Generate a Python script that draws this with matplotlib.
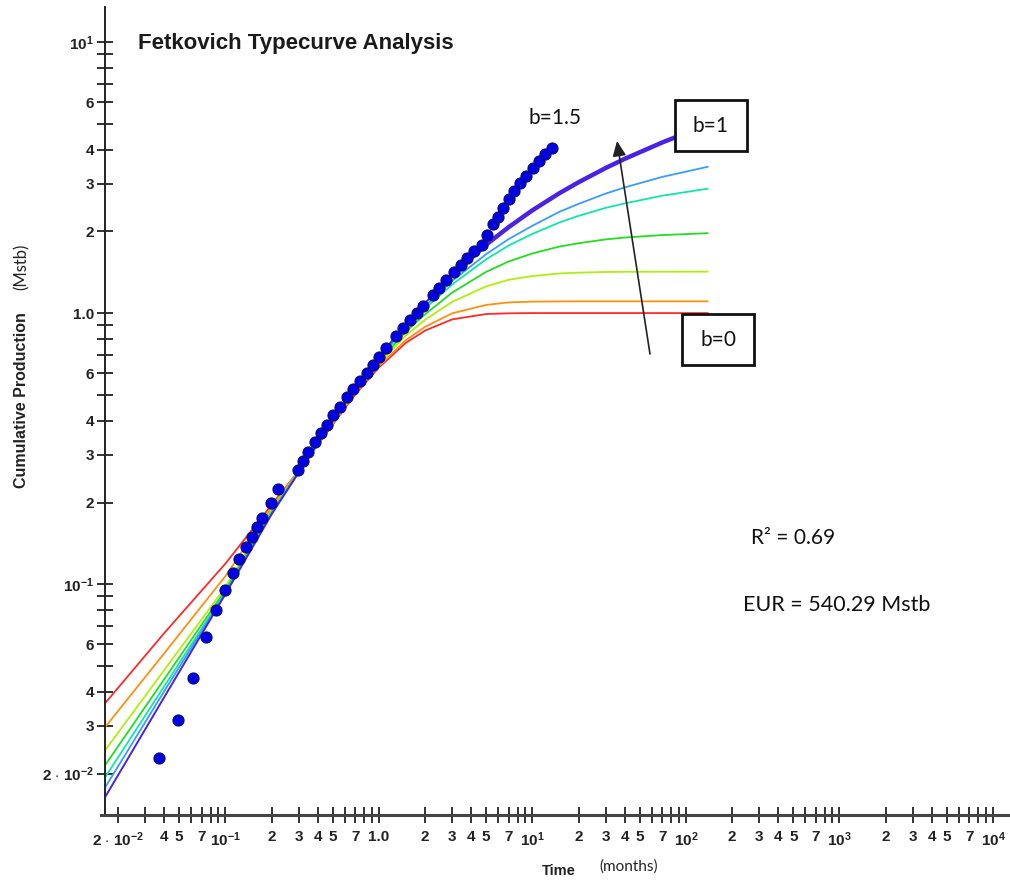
import matplotlib
matplotlib.use("Agg")
import matplotlib.pyplot as plt
from matplotlib.patches import Rectangle
from matplotlib.ticker import FixedLocator, FixedFormatter

plt.rcParams['mathtext.fontset'] = 'custom'
plt.rcParams['mathtext.bf'] = 'Liberation Sans:bold'
plt.rcParams['mathtext.rm'] = 'Liberation Sans'

W, H = 1010, 880

# time (months) where the type curves were read
t_curve = [0.0165, 0.04, 0.1, 0.2, 0.3, 0.5, 0.7, 1, 1.5, 2, 3, 5, 7, 10,
           15, 20, 30, 40, 70, 140]
t_b1 = [0.0165, 0.04, 0.1, 0.2, 0.3, 0.5, 0.7, 1, 1.5, 2, 3, 5, 7, 10,
        15, 20, 30, 40, 70, 85]

# cumulative production of the type curves (Mstb)
q_red = [0.0364, 0.0660, 0.119, 0.196, 0.262, 0.388, 0.500, 0.630, 0.777, 0.862,
         0.948, 0.992, 0.998, 1.0, 1.0, 1.0, 1.0, 1.0, 1.0, 1.0]
q_orange = [0.0297, 0.0556, 0.107, 0.192, 0.262, 0.391, 0.506, 0.638, 0.795, 0.890,
            0.998, 1.072, 1.095, 1.102, 1.104, 1.105, 1.105, 1.105, 1.105, 1.105]
q_yellow = [0.0244, 0.0482, 0.0975, 0.188, 0.261, 0.394, 0.512, 0.650, 0.828, 0.945,
            1.100, 1.255, 1.327, 1.370, 1.400, 1.410, 1.418, 1.420, 1.421, 1.422]
q_green = [0.0215, 0.0446, 0.0950, 0.185, 0.260, 0.396, 0.518, 0.662, 0.855, 0.990,
           1.190, 1.420, 1.550, 1.660, 1.760, 1.810, 1.870, 1.900, 1.940, 1.972]
q_teal = [0.0194, 0.0420, 0.0934, 0.184, 0.259, 0.398, 0.522, 0.675, 0.880, 1.040,
          1.275, 1.580, 1.775, 1.960, 2.160, 2.285, 2.445, 2.540, 2.710, 2.880]
q_lblue = [0.0178, 0.0403, 0.0926, 0.182, 0.259, 0.400, 0.525, 0.683, 0.893, 1.060,
           1.315, 1.650, 1.875, 2.100, 2.365, 2.530, 2.760, 2.910, 3.180, 3.470]
q_b1 = [0.0164, 0.0383, 0.0918, 0.181, 0.258, 0.402, 0.530, 0.690, 0.912, 1.090,
        1.380, 1.790, 2.075, 2.395, 2.770, 3.040, 3.430, 3.710, 4.260, 4.450]

# well data
t_data = [0.0369, 0.0491, 0.0614, 0.0746, 0.0867, 0.0993, 0.112, 0.1225, 0.136, 0.149,
          0.160, 0.173, 0.198, 0.220, 0.297, 0.320, 0.345, 0.383, 0.419, 0.458,
          0.501, 0.557, 0.619, 0.677, 0.752, 0.835, 0.914, 1.0, 1.11, 1.29,
          1.43, 1.59, 1.77, 1.93, 2.25, 2.46, 2.73, 3.08, 3.42, 3.74,
          4.16, 4.69, 5.05, 5.53, 5.96, 6.42, 7.03, 7.57, 8.29, 9.07,
          10.07, 11.0, 12.1, 13.4]
q_data = [0.0228, 0.0315, 0.045, 0.0637, 0.0802, 0.095, 0.110, 0.1236, 0.137, 0.149,
          0.162, 0.175, 0.199, 0.224, 0.264, 0.284, 0.307, 0.334, 0.361, 0.386,
          0.421, 0.450, 0.490, 0.525, 0.561, 0.601, 0.643, 0.688, 0.743, 0.822,
          0.880, 0.942, 1.0, 1.06, 1.165, 1.24, 1.32, 1.42, 1.50, 1.60,
          1.69, 1.78, 1.94, 2.13, 2.26, 2.44, 2.63, 2.82, 3.02, 3.20,
          3.43, 3.64, 3.86, 4.06]


def fx(px):
    return px / W


def fy(py):
    return 1 - py / H


fig = plt.figure(figsize=(W / 100, H / 100), dpi=100)
ax = fig.add_axes([fx(105), fy(815), fx(1010) - fx(105), fy(7) - fy(815)])
ax.set_xscale('log')
ax.set_yscale('log')
ax.set_xlim(0.01644, 12900)
ax.set_ylim(0.01406, 13.47)

curves = [(q_red, '#ff2a2a'), (q_orange, '#ff9010'), (q_yellow, '#b0ee10'),
          (q_green, '#22dd22'), (q_teal, '#10e6a8'), (q_lblue, '#3a9cff')]
for q, c in curves:
    ax.plot(t_curve, q, color=c, lw=1.3, solid_capstyle='butt')
# b=1: thin at early time, thick once it leaves the data
ax.plot(t_b1, q_b1, color='#4a22e6', lw=1.4, solid_capstyle='butt')
ax.plot(t_b1[10:], q_b1[10:], color='#4a22e6', lw=3.2, solid_capstyle='butt')

ax.plot(t_data, q_data, 'o', ms=8, mfc='#0000e8', mec='#101060', mew=0.8, zorder=5)

# ticks
xt, xl = [], []
for e in range(-2, 4):
    for m in range(1, 10):
        v = m * 10.0 ** e
        if v < 0.019:
            continue
        xt.append(v)
        if m == 1:
            xl.append('1.0' if e == 0 else r'$\mathbf{10^{%d}}$' % e)
        elif v == 0.02:
            xl.append(r'2 $\cdot$ $\mathbf{10^{-2}}$')
        elif v == 0.03:
            xl.append('')
        elif m in (2, 3, 4, 5, 7):
            xl.append(str(m))
        else:
            xl.append('')
xt.append(1e4)
xl.append(r'$\mathbf{10^{4}}$')

yt, yl = [], []
for e in range(-2, 1):
    for m in range(1, 10):
        v = m * 10.0 ** e
        if v < 0.019:
            continue
        yt.append(v)
        if m == 1:
            yl.append('1.0' if e == 0 else r'$\mathbf{10^{%d}}$' % e)
        elif v == 0.02:
            yl.append(r'2 $\cdot$ $\mathbf{10^{-2}}$')
        elif m in (2, 3, 4, 6):
            yl.append(str(m))
        else:
            yl.append('')
yt.append(10)
yl.append(r'$\mathbf{10^{1}}$')

ax.xaxis.set_major_locator(FixedLocator(xt))
ax.xaxis.set_major_formatter(FixedFormatter(xl))
ax.yaxis.set_major_locator(FixedLocator(yt))
ax.yaxis.set_major_formatter(FixedFormatter(yl))
ax.minorticks_off()
ax.tick_params(axis='both', which='major', direction='inout', length=12, width=1.3,
               color='#222222', labelcolor='#222222', labelsize=11)
ax.tick_params(axis='x', pad=5)
ax.tick_params(axis='y', pad=2)
for lab in ax.get_xticklabels() + ax.get_yticklabels():
    lab.set_fontfamily('Liberation Sans')
    lab.set_fontweight('bold')

for s in ('top', 'right'):
    ax.spines[s].set_visible(False)
ax.spines['left'].set_linewidth(1.4)
ax.spines['left'].set_color('#222222')
ax.spines['bottom'].set_linewidth(2.2)
ax.spines['bottom'].set_color('#444444')
ax.spines['bottom'].set_bounds(0.0155, 12900)

# title and axis labels
fig.text(fx(138), fy(43), 'Fetkovich Typecurve Analysis', fontsize=16, fontweight='bold',
         family='Liberation Sans', color='#1a1a1a', ha='left', va='center')
fig.text(fx(22), fy(400), 'Cumulative Production', fontsize=11.5, fontweight='bold',
         family='Liberation Sans', color='#222222', rotation=90, ha='center', va='center')
fig.text(fx(22), fy(267), '(Mstb)', fontsize=12, family='Lato', color='#222222',
         rotation=90, ha='center', va='center')
fig.text(fx(559), fy(871), 'Time', fontsize=10.5, fontweight='bold',
         family='Liberation Sans', color='#222222', ha='center', va='center')
fig.text(fx(629), fy(867), '(months)', fontsize=11, family='Lato', color='#222222',
         ha='center', va='center')

# annotations
fig.text(fx(555), fy(118), 'b=1.5', fontsize=15, family='Lato', color='#111111',
         ha='center', va='center')
for (x0, y0, x1, y1, s) in [(675, 100, 747, 151, 'b=1'), (682, 314, 754, 365, 'b=0')]:
    fig.add_artist(Rectangle((fx(x0), fy(y1)), fx(x1) - fx(x0), fy(y0) - fy(y1),
                             transform=fig.transFigure, facecolor='white',
                             edgecolor='#111111', lw=2, zorder=6))
    fig.text(fx((x0 + x1) / 2), fy((y0 + y1) / 2), s, fontsize=15, family='Lato',
             color='#111111', ha='center', va='center', zorder=7)

ax.annotate('', xy=(fx(617), fy(141)), xycoords='figure fraction',
            xytext=(fx(650), fy(354)), textcoords='figure fraction',
            arrowprops=dict(arrowstyle='-|>,head_length=0.9,head_width=0.4',
                            color='#222222', lw=1.2, shrinkA=0, shrinkB=0))

fig.text(fx(751), fy(538), 'R² = 0.69', fontsize=15, family='Lato', color='#111111',
         ha='left', va='center')
fig.text(fx(743), fy(605), 'EUR = 540.29 Mstb', fontsize=15.5, family='Lato',
         color='#111111', ha='left', va='center')

fig.savefig('out.png', dpi=100)
